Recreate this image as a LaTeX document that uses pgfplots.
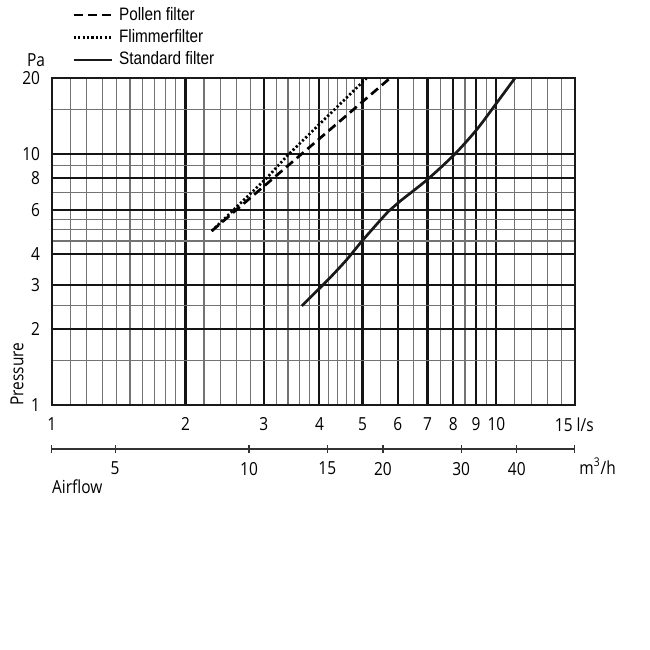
\documentclass[border=0pt]{standalone}
\usepackage{pgfplots}
\pgfplotsset{compat=1.18}
\usepackage{fontspec}
\setmainfont{Open Sans}[FakeStretch=0.86]
\newfontfamily\legfont{Liberation Sans}[FakeStretch=0.85]
\newcommand\axfont{\fontsize{9}{10}\selectfont}
\begin{document}
\begin{tikzpicture}[x=0.5pt,y=0.5pt]
\useasboundingbox (0,0) rectangle (650,650);
\begin{axis}[
  at={(25.85pt,122.5pt)}, anchor=south west,
  scale only axis, width=261.5pt, height=163.35pt,
  xmode=log, ymode=log, xmin=1, xmax=15, ymin=1, ymax=20,
  xtick={1,2,3,4,5,6,7,8,9,10,15},
  xticklabels={1,2,3,4,5,6,7,8,9,10,{\llap{15}\hspace{2pt}\rlap{l/s}}},
  minor xtick={1.1,1.2,1.3,1.4,1.5,1.6,1.7,1.8,1.9,2.2,2.4,2.6,2.8,3.2,3.4,3.6,3.8,4.2,4.4,4.6,4.8,5.5,6.5,7.5,8.5,9.5,11,12,13,14},
  ytick={1,2,3,4,6,8,10,20},
  yticklabels={1,2,3,4,6,8,10,20},
  minor ytick={1.5,2.5,4.5,5,5.5,7,9,15},
  grid=both,
  major grid style={black!92, line width=1.05pt},
  minor grid style={black!55, line width=0.55pt},
  major tick length=0pt, minor tick length=0pt,
  axis line style={black!90, line width=1.15pt},
  tick label style={font=\axfont},
  xticklabel style={anchor=north, inner sep=0pt, yshift=-6pt},
  yticklabel style={anchor=east, inner sep=0pt, xshift=-5.6pt},
  legend style={at={(axis description cs:0.0388,1)}, anchor=south west,
    yshift=5pt, draw=none, fill=none, inner sep=0pt, row sep=3.2pt,
    column sep=3pt, font=\legfont\fontsize{9}{10}\selectfont,
    nodes={inner sep=0pt}},
  legend cell align=left,
  legend image code/.code={\draw[#1] (0pt,0pt) -- (19pt,0pt);},
]
\addplot[black, line width=1.35pt, dash pattern=on 4.5pt off 2.5pt] coordinates {
  (2.29,4.93) (3.65,10) (5.76,20)};
\addlegendentry{Pollen filter}
\addplot[black, line width=1.35pt, dash pattern=on 1.1pt off 1.1pt] coordinates {
  (2.29,4.93) (3.04,8.0) (3.40,9.9) (5.10,20)};
\addlegendentry{Flimmerfilter}
\addplot[black!90, line width=1.35pt, smooth, tension=0.5] coordinates {
  (3.65,2.48) (4.18,3.15) (4.60,3.78) (5.01,4.54) (5.71,5.89) (6.06,6.46)
  (6.98,7.88) (8.03,9.91) (9.02,12.46) (10.0,15.9) (11.0,20)};
\addlegendentry{Standard filter}
\end{axis}
\begin{axis}[
  at={(25.85pt,100.5pt)}, anchor=south west,
  scale only axis, width=261.5pt, height=10pt,
  xmode=log, xmin=3.6, xmax=54, ymin=0, ymax=1,
  axis x line=bottom, axis y line=none,
  axis line style={-, black!80, line width=0.65pt},
  xtick={3.6,5,10,15,20,30,40,54},
  xticklabels={,5,10,15,20,30,40,},
  minor xtick={},
  tick align=center, major tick length=4pt,
  tick style={black!80, line width=0.65pt},
  tick label style={font=\axfont},
  xticklabel style={anchor=north, inner sep=0pt, yshift=-4.3pt},
]
\addplot[draw=none] coordinates {(3.6,0) (54,1)};
\end{axis}
\node[font=\axfont] at (36,590) {Pa};
\node[font=\axfont, rotate=90] at (17,276) {Pressure};
\node[font=\axfont, anchor=west, inner sep=0pt] at (51.7,163) {Airflow};
\node[font=\axfont, anchor=west, inner sep=0pt] at (579,184) {m\textsuperscript{3}/h};
\end{tikzpicture}
\end{document}
